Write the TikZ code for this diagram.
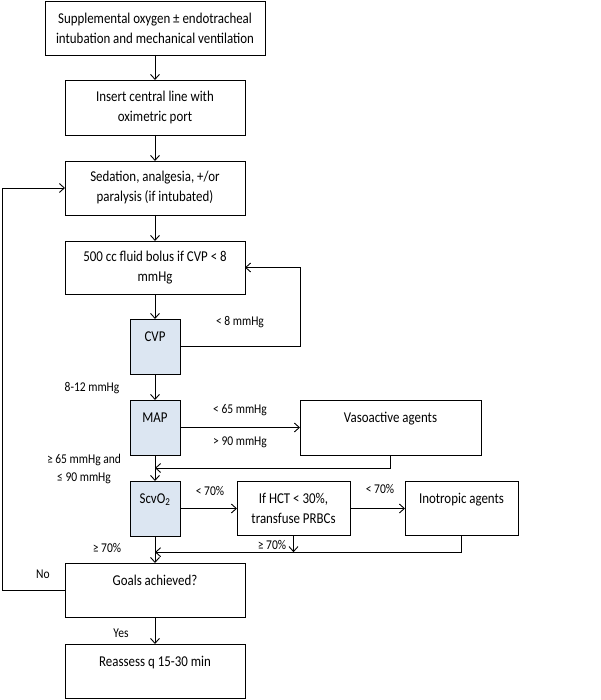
\documentclass[tikz,border=0pt]{standalone}
\usepackage{fontspec}
\setmainfont{Carlito}[FakeStretch=0.86]
\usetikzlibrary{arrows.meta,positioning,calc}
\definecolor{checkfill}{HTML}{DCE6F2}
\tikzset{
      stepbox/.style = {draw, line width=0.9pt, align=center, inner sep=2pt, outer sep=0pt,
                        minimum width=180pt, minimum height=54pt,
                        font=\fontsize{15}{20}\selectfont},
      checkbox/.style = {stepbox, fill=checkfill, minimum width=50pt, minimum height=55pt},
      sidebox/.style = {stepbox, minimum width=113pt},
      flow/.style = {black, line width=0.9pt, ->, >={Straight Barb[length=5pt,width=9pt]}},
      tag/.style = {font=\fontsize{13.4}{18}\selectfont, align=center, inner sep=1pt},
    }
\begin{document}
\begin{tikzpicture}[node distance=26pt]
        \useasboundingbox (0,0) rectangle (600pt,-700pt);
        % main column
        \node [stepbox, minimum width=220pt] (oxygen) at (155pt,-28pt)
              {Supplemental oxygen ± endotracheal\\intubation and mechanical ventilation};
        \node [stepbox, minimum height=55pt] (line) [below=25pt of oxygen]
              {Insert central line with\\oximetric port};
        \node [stepbox] (sedation) [below=of line]
              {Sedation, analgesia, +/or\\paralysis (if intubated)};
        \node [stepbox, minimum height=53pt] (bolus) [below=of sedation]
              {500 cc fluid bolus if CVP < 8\\mmHg};
        \node [checkbox] (cvp) [below=25pt of bolus] {CVP\\\mbox{}};
        \node [checkbox] (map) [below=of cvp] {MAP\\\mbox{}};
        \node [checkbox] (scvo) [below=of map] {ScvO\textsubscript{2}\\\mbox{}};
        \node [stepbox] (goals) [below=27pt of scvo] {Goals achieved?\\\mbox{}};
        \node [stepbox] (reassess) [below=27pt of goals] {Reassess q 15-30 min\\\mbox{}};
        % side boxes
        \node [stepbox, minimum width=181pt, minimum height=55pt] (vaso) [right=120pt of map]
              {Vasoactive agents\\\mbox{}};
        \node [sidebox] (hct) [right=57pt of scvo] {If HCT < 30\%,\\transfuse PRBCs};
        \node [sidebox] (ino) [right=55pt of hct] {Inotropic agents\\\mbox{}};
        % join points
        \coordinate (join1) at ($(map.south)!0.5!(scvo.north)$);
        \coordinate (join2) at ($(scvo.south)!0.6!(goals.north)$);
        \coordinate (back) at (2pt,0);
        % connectors
        \draw [flow] (oxygen) -- (line);
        \draw [flow] (line) -- (sedation);
        \draw [flow] (sedation) -- (bolus);
        \draw [flow] (bolus) -- (cvp);
        \draw [flow] (cvp) -- (map);
        \draw [flow] (map) -- (scvo);
        \draw [flow] (scvo) -- (goals);
        \draw [flow] (goals) -- (reassess);
        \draw [flow] (cvp.east) -- ++(120pt,0) |- (bolus.east);
        \draw [flow] (map.east) -- (map.east -| vaso.west);
        \draw [flow] (vaso.south) |- (join1);
        \draw [flow] (scvo.east) -- (scvo.east -| hct.west);
        \draw [flow] (hct.east) -- (ino.west);
        \draw [flow] (hct.south) -- (hct.south |- join2);
        \draw [flow] (ino.south) |- (join2);
        \draw [flow] (goals.west) -- (goals.west -| back) |- (sedation.west);
        % labels
        \node [tag] (lowcvp) at (240pt,-322pt) {< 8 mmHg};
        \node [tag] (okcvp) at (92pt,-388pt) {8-12 mmHg};
        \node [tag] (lowmap) at (240pt,-410pt) {< 65 mmHg};
        \node [tag] (highmap) at (240pt,-442pt) {> 90 mmHg};
        \node [tag] (okmap) at (84pt,-469pt) {≥ 65 mmHg and\\≤ 90 mmHg};
        \node [tag] (lowscvo) at (210pt,-491pt) {< 70\%};
        \node [tag] (lowhct) at (380pt,-489pt) {< 70\%};
        \node [tag] (okhct) at (272pt,-545pt) {≥ 70\%};
        \node [tag] (okscvo) at (107pt,-548pt) {≥ 70\%};
        \node [tag] (no) at (43pt,-574pt) {No};
        \node [tag] (yes) at (121pt,-633pt) {Yes};
\end{tikzpicture}
\end{document}
